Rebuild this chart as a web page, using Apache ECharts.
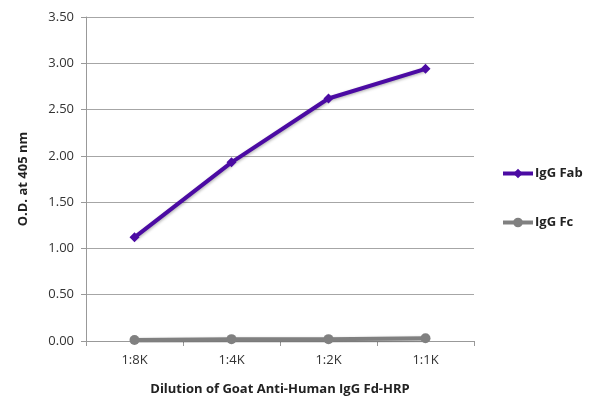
<!DOCTYPE html>
<html><head><meta charset="utf-8">
<script src="https://cdn.jsdelivr.net/npm/echarts@6/dist/echarts.min.js"></script>
<style>html,body{margin:0;padding:0;background:#fff}#c{width:600px;height:413px}</style>
</head><body><div id="c"></div>
<script>
const categories = ['1:8K', '1:4K', '1:2K', '1:1K'];
const fabValues = [1.12, 1.93, 2.62, 2.94];
const fcValues = [0.01, 0.02, 0.02, 0.03];
const yTicks = [0, 0.5, 1, 1.5, 2, 2.5, 3, 3.5];

const chart = echarts.init(document.getElementById('c'), null, {renderer: 'canvas'});
const font = '"Open Sans", "Liberation Sans", sans-serif';
chart.setOption({
  animation: false,
  textStyle: {fontFamily: font},
  grid: {left: 86, right: 126, top: 17, bottom: 72},
  legend: {
    orient: 'vertical', left: 496, top: 162, itemGap: 36,
    itemWidth: 30, itemHeight: 12,
    lineStyle: {width: 4},
    textStyle: {fontFamily: font, fontWeight: 'bold', fontSize: 13, color: '#222', padding: [0, 0, 0, -3]},
    data: ['IgG Fab', 'IgG Fc']
  },
  xAxis: {
    type: 'category', data: categories, boundaryGap: true,
    name: 'Dilution of Goat Anti-Human IgG Fd-HRP', nameLocation: 'middle', nameGap: 42,
    nameTextStyle: {fontFamily: font, fontWeight: 'bold', fontSize: 13, color: '#222'},
    axisLine: {lineStyle: {color: '#999', width: 1}},
    axisTick: {show: true, length: 5, lineStyle: {color: '#999'}},
    axisLabel: {fontSize: 13, color: '#333', margin: 13}
  },
  yAxis: {
    type: 'value', min: yTicks[0], max: yTicks[yTicks.length - 1], interval: 0.5,
    name: 'O.D. at 405 nm', nameLocation: 'middle', nameGap: 56,
    nameTextStyle: {fontFamily: font, fontWeight: 'bold', fontSize: 13, color: '#222'},
    axisLine: {show: true, lineStyle: {color: '#999', width: 1}},
    axisTick: {show: true, length: 5, lineStyle: {color: '#999'}},
    axisLabel: {fontSize: 13, color: '#333', margin: 12, formatter: v => v.toFixed(2)},
    splitLine: {lineStyle: {color: '#a6a6a6', width: 1}}
  },
  series: [
    {
      name: 'IgG Fab', type: 'line', data: fabValues,
      symbol: 'diamond', symbolSize: 10,
      lineStyle: {color: '#4b0ba3', width: 4, shadowColor: 'rgba(0,0,0,0.3)', shadowBlur: 3, shadowOffsetX: 1, shadowOffsetY: 1},
      itemStyle: {color: '#4b0ba3'}
    },
    {
      name: 'IgG Fc', type: 'line', data: fcValues,
      symbol: 'circle', symbolSize: 10,
      lineStyle: {color: '#808080', width: 4, shadowColor: 'rgba(0,0,0,0.3)', shadowBlur: 3, shadowOffsetX: 1, shadowOffsetY: 1},
      itemStyle: {color: '#808080'}
    }
  ]
});
</script></body></html>
